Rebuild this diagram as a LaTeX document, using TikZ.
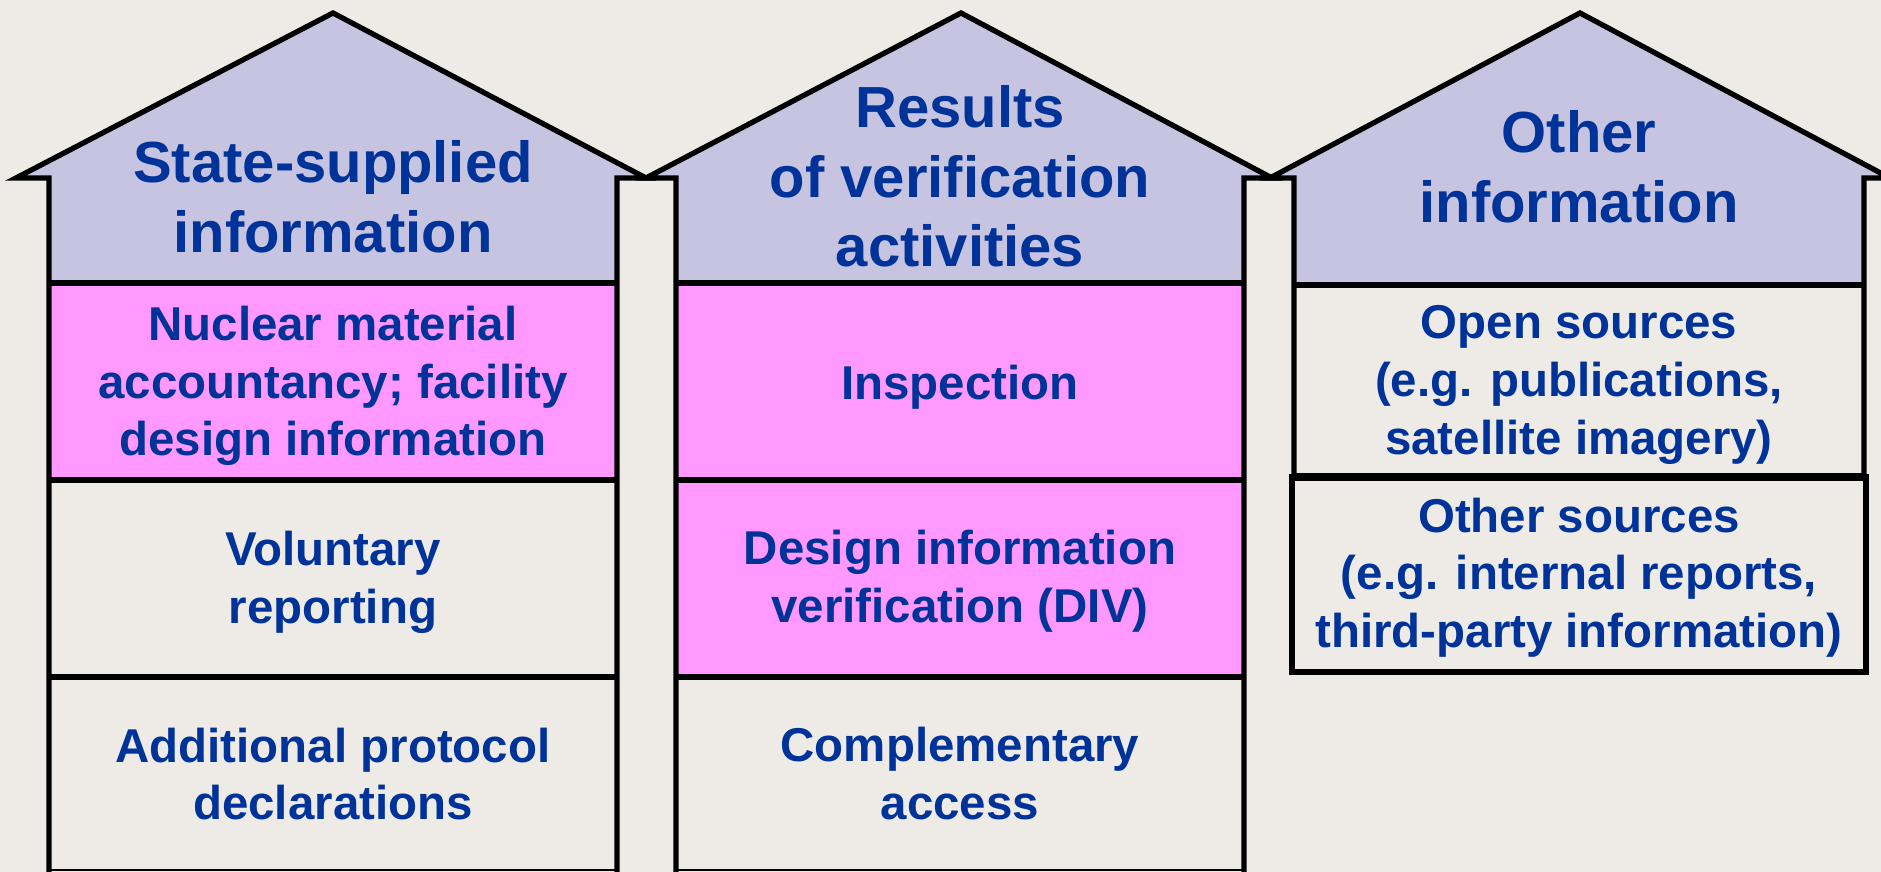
\documentclass[tikz,border=0pt]{standalone}
\usepackage{fontspec}
\setmainfont{Liberation Sans}
\usepackage{xcolor}
\definecolor{bgcol}{RGB}{238,235,231}
\definecolor{roofcol}{RGB}{198,196,224}
\definecolor{pinkcol}{RGB}{255,153,255}
\definecolor{txtcol}{RGB}{0,51,153}

\begin{document}
\begin{tikzpicture}[
	outline/.style={line width = 1.5pt, line join=miter},
	rowtext/.style={font=\fontsize{13.5}{16.4}\selectfont\bfseries, text=txtcol, align=center},
	rooftext/.style={font=\fontsize{16.5}{19.8}\selectfont\bfseries, text=txtcol, align=center}
	]
	
	\fill[bgcol] (0,0) rectangle (18.81,8.72);
	\clip (0,0) rectangle (18.81,8.72);
	
	% roofs
	\fill[roofcol] (0.16,6.94) -- (3.33,8.59) -- (6.46,6.94) -- cycle;
	\fill[roofcol] (0.49,6.94) rectangle (6.17,5.89);
	\fill[roofcol] (6.46,6.94) -- (9.61,8.59) -- (12.72,6.94) -- cycle;
	\fill[roofcol] (6.76,6.94) rectangle (12.44,5.89);
	\fill[roofcol] (12.70,6.94) -- (15.80,8.59) -- (18.90,6.94) -- cycle;
	\fill[roofcol] (12.94,6.94) rectangle (18.64,5.87);
	
	% pink rows
	\fill[pinkcol] (0.49,5.89) rectangle (6.17,3.92);
	\fill[pinkcol] (6.76,5.89) rectangle (12.44,1.95);
	
	% house 1
	\draw[outline] (0.49,0) -- (0.49,6.94) -- (0.16,6.94) -- (3.33,8.59) -- (6.46,6.94) -- (6.17,6.94) -- (6.17,0);
	\draw[outline] (0.49,5.89) -- (6.17,5.89);
	\draw[outline] (0.49,3.92) -- (6.17,3.92);
	\draw[outline] (0.49,1.95) -- (6.17,1.95);
	\draw[line width = 0.6pt] (0.49,0.02) -- (6.17,0.02);
	
	% house 2
	\draw[outline] (6.76,0) -- (6.76,6.94) -- (6.46,6.94) -- (9.61,8.59) -- (12.72,6.94) -- (12.44,6.94) -- (12.44,0);
	\draw[outline] (6.76,5.89) -- (12.44,5.89);
	\draw[outline] (6.76,3.92) -- (12.44,3.92);
	\draw[outline] (6.76,1.95) -- (12.44,1.95);
	\draw[line width = 0.6pt] (6.76,0.02) -- (12.44,0.02);
	
	% house 3
	\draw[outline] (12.94,3.95) -- (12.94,6.94) -- (12.70,6.94) -- (15.80,8.59) -- (18.90,6.94) -- (18.64,6.94) -- (18.64,3.95);
	\draw[outline] (12.94,5.87) -- (18.64,5.87);
	\draw[outline] (12.92,2.00) rectangle (18.66,3.95);
	\draw[line width = 2.4pt] (12.92,3.95) -- (18.66,3.95);
	
	\node[rooftext] (state) at (3.33,6.75) {State-supplied\\information};
	\node[rooftext] (results) at (9.60,6.955) {Results\\of verification\\activities};
	\node[rooftext] (other) at (15.79,7.055) {Other\\information};
	
	\node[rowtext] (nma) at (3.33,4.86) {Nuclear material\\accountancy; facility\\design information};
	\node[rowtext] (volrep) at (3.33,2.895) {Voluntary\\reporting};
	\node[rowtext] (apdecl) at (3.33,0.98) {Additional protocol\\declarations};
	
	\node[rowtext] (insp) at (9.60,4.845) {Inspection};
	\node[rowtext] (div) at (9.60,2.905) {Design information\\verification (DIV)};
	\node[rowtext] (compacc) at (9.60,0.985) {Complementary\\access};
	
	\node[rowtext] (opensrc) at (15.79,4.87) {Open sources\\(e.g. publications,\\satellite imagery)};
	\node[rowtext] (othersrc) at (15.79,2.945) {Other sources\\(e.g. internal reports,\\third-party information)};
	
\end{tikzpicture}
\end{document}
